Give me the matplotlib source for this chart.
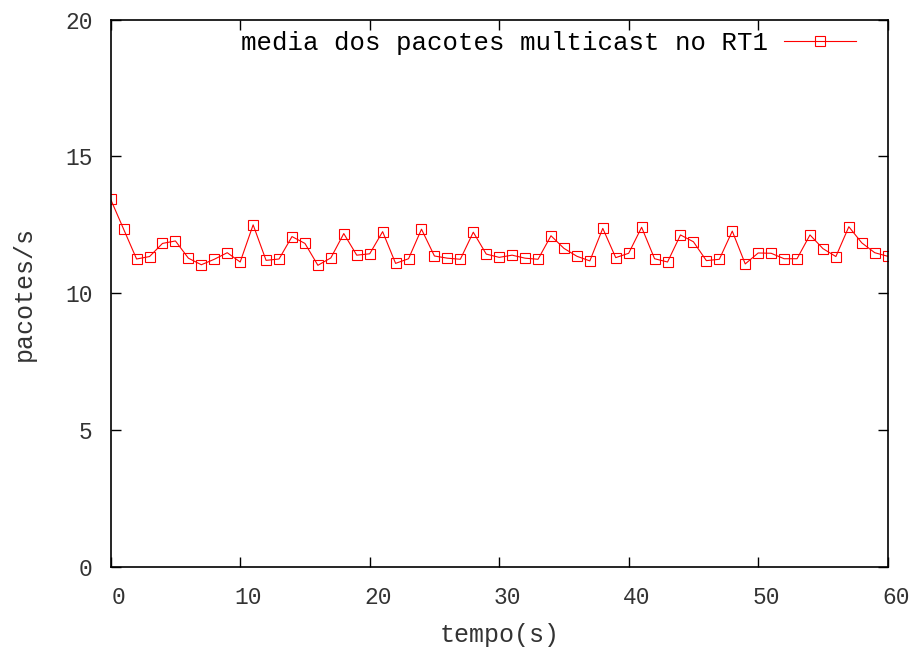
import numpy as np
import matplotlib.pyplot as plt
import matplotlib.transforms as mtransforms

plt.rcParams['font.family'] = ['Liberation Mono', 'DejaVu Sans Mono']

# tempo (s) e media de pacotes por segundo
tempo = list(range(0, 61))
pacotes = [13.43, 12.34, 11.25, 11.34, 11.82, 11.91, 11.28, 11.04, 11.24, 11.48,
           11.14, 12.50, 11.20, 11.25, 12.07, 11.82, 11.02, 11.29, 12.18, 11.39,
           11.44, 12.25, 11.09, 11.26, 12.34, 11.36, 11.28, 11.24, 12.23, 11.43,
           11.31, 11.39, 11.28, 11.24, 12.10, 11.64, 11.35, 11.18, 12.37, 11.30,
           11.46, 12.41, 11.26, 11.14, 12.13, 11.88, 11.19, 11.24, 12.27, 11.07,
           11.47, 11.46, 11.26, 11.26, 12.13, 11.63, 11.34, 12.43, 11.84, 11.48,
           11.35]

xticks = [0, 10, 20, 30, 40, 50, 60]
yticks = [0, 5, 10, 15, 20]

fig = plt.figure(figsize=(9.11, 6.48), dpi=100)
ax = fig.add_axes([0.1215, 0.1255, 0.8529, 0.8441])

ax.plot(tempo, pacotes, color='red', lw=0.8, marker='s', markersize=6.5,
        markerfacecolor='none', markeredgecolor='red', markeredgewidth=0.8,
        label='media dos pacotes multicast no RT1')

ax.set_xlim(0, 60)
ax.set_ylim(0, 20)
ax.set_xticks(xticks)
ax.set_yticks(yticks)
ax.tick_params(direction='in', length=7, width=1, top=True, right=True,
               labelsize=16.5, colors='black', labelcolor='#333333')
ax.tick_params(axis='x', pad=14)
ax.tick_params(axis='y', pad=13)
# gnuplot draws the x labels slightly right of the ticks
for lbl in ax.get_xticklabels():
    lbl.set_transform(lbl.get_transform() +
                      mtransforms.ScaledTranslation(8 / 100, 0, fig.dpi_scale_trans))
for sp in ax.spines.values():
    sp.set_linewidth(1.2)

ax.set_xlabel('tempo(s)', fontsize=18, color='#333333', labelpad=10)
ax.set_ylabel('pacotes/s', fontsize=18, color='#333333', labelpad=21)

leg = ax.legend(loc='upper right', bbox_to_anchor=(0.982, 1.012), frameon=False,
                markerfirst=False, fontsize=18.5, handlelength=2.8,
                handletextpad=0.6, borderaxespad=0.3)

fig.savefig('out.png', dpi=100)
